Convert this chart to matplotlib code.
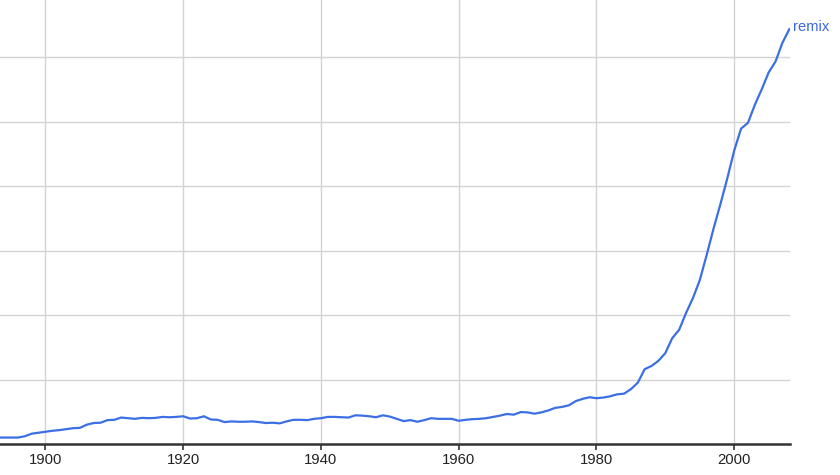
import numpy as np
import matplotlib
matplotlib.use("Agg")
import matplotlib.pyplot as plt

plt.rcParams['font.family'] = ['Liberation Sans', 'DejaVu Sans']

# Donnees (unite = un intervalle de grille)
annees = np.arange(1893, 2009)
remix = [
    0.10, 0.10, 0.10, 0.10, 0.12, 0.16, 0.175,                              # 1893-1899
    0.19, 0.205, 0.215, 0.23, 0.245, 0.25, 0.30, 0.325, 0.33, 0.37,        # 1900-1909
    0.375, 0.41, 0.40, 0.39, 0.405, 0.40, 0.405, 0.42, 0.415, 0.42,        # 1910-1919
    0.43, 0.395, 0.40, 0.43, 0.38, 0.375, 0.34, 0.35, 0.345, 0.345,        # 1920-1929
    0.35, 0.34, 0.325, 0.33, 0.32, 0.35, 0.375, 0.375, 0.37, 0.39,         # 1930-1939
    0.40, 0.42, 0.42, 0.415, 0.41, 0.445, 0.44, 0.43, 0.415, 0.445,        # 1940-1949
    0.425, 0.39, 0.355, 0.37, 0.345, 0.37, 0.40, 0.39, 0.39, 0.39,         # 1950-1959
    0.36, 0.375, 0.385, 0.39, 0.40, 0.42, 0.44, 0.465, 0.455, 0.495,       # 1960-1969
    0.49, 0.47, 0.49, 0.52, 0.56, 0.575, 0.60, 0.665, 0.70, 0.725,         # 1970-1979
    0.71, 0.72, 0.74, 0.77, 0.78, 0.85, 0.95, 1.16, 1.21, 1.29,            # 1980-1989
    1.41, 1.64, 1.77, 2.03, 2.26, 2.54, 2.93, 3.34, 3.72, 4.12,            # 1990-1999
    4.55, 4.89, 4.98, 5.26, 5.50, 5.76, 5.93, 6.22, 6.43,                  # 2000-2008
]
etiquette = "remix"
graduations = [1900, 1920, 1940, 1960, 1980, 2000]

fig = plt.figure(figsize=(8.4, 4.75), dpi=100)
ax = fig.add_axes([0.0, 1 - 444 / 475, 790 / 840, 444 / 475])

couleur = "#3b6fe3"
ax.plot(annees, remix, color=couleur, lw=1.6, solid_joinstyle="round", zorder=3)
ax.text(annees[-1] + 0.5, remix[-1] - 0.02, etiquette, color="#3a66e6",
        fontsize=10.6, va="baseline", ha="left", clip_on=False)

ax.set_xlim(1893.4, 2008.1)
ax.set_ylim(0, 444 / 64.5)
ax.set_xticks(graduations)
ax.set_yticks(np.arange(1, 7))
ax.tick_params(axis="y", left=False, labelleft=False)
ax.tick_params(axis="x", direction="out", length=4, width=1.2, color="#333333",
               labelsize=10.7, labelcolor="#222222", pad=2.5)
ax.grid(True, color="#d4d4d4", lw=1.0, zorder=0)

for s in ["top", "right", "left"]:
    ax.spines[s].set_visible(False)
ax.spines["bottom"].set_color("#333333")
ax.spines["bottom"].set_linewidth(1.8)

fig.savefig("out.png", dpi=100)
